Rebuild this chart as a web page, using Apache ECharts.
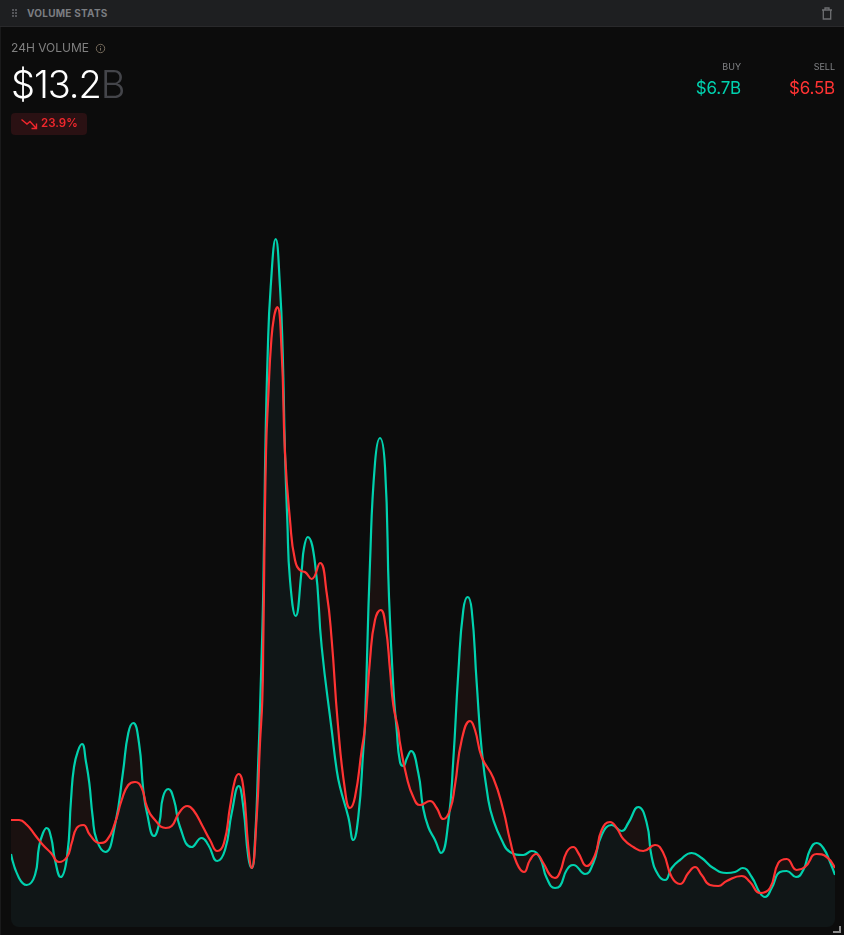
<!DOCTYPE html>
<html><head><meta charset="utf-8">
<script src="https://cdn.jsdelivr.net/npm/echarts@6/dist/echarts.min.js"></script>
<style>
html,body{margin:0;padding:0;background:#0c0c0c;width:844px;height:935px;overflow:hidden;font-family:Inter,sans-serif}
.abs{position:absolute;white-space:nowrap;line-height:1;z-index:2}
#hdr{position:absolute;left:0;top:0;width:844px;height:26px;background:#1e1f21;border-bottom:1px solid #29292b}
#edge{position:absolute;left:0;top:27px;width:1px;height:908px;background:#1a1a1b}
#wrap{position:absolute;left:11px;top:27px;width:824px;height:900px;overflow:hidden;border-radius:0 0 8px 8px}
#chart{width:824px;height:900px}
#corner{position:absolute;left:833px;top:926px;width:6px;height:5px;border-right:2px solid #8a8a8a;border-bottom:2px solid #8a8a8a}
</style></head><body>
<div id="hdr"></div><div id="edge"></div>
<div id="wrap"><div id="chart"></div></div>
<svg class="abs" style="left:12px;top:9px" width="6" height="9"><g fill="#55565a"><rect x="0" y="0" width="2" height="2"/><rect x="3" y="0" width="2" height="2"/><rect x="0" y="3" width="2" height="2"/><rect x="3" y="3" width="2" height="2"/><rect x="0" y="6" width="2" height="2"/><rect x="3" y="6" width="2" height="2"/></g></svg>
<div class="abs" style="left:27px;top:8px;font-size:10px;font-weight:700;letter-spacing:.25px;color:#7b7d81">VOLUME STATS</div>
<svg class="abs" style="left:821px;top:7px" width="12" height="13" fill="none" stroke="#6e6f72" stroke-width="1.3"><path d="M1 3h10M4 3V1h4v2M2.3 3v9h7.4V3"/></svg>
<div class="abs" style="left:11px;top:42px;font-size:12px;color:#808080">24H VOLUME</div>
<svg class="abs" style="left:95px;top:43px" width="11" height="11" fill="none" stroke="#74695a" stroke-width="1"><circle cx="5.5" cy="5.5" r="4.2"/><path d="M5.5 3.2v.9M5.5 5v2.6"/></svg>
<div class="abs" style="left:11px;top:65px;font-size:38px;font-weight:300;letter-spacing:-1.1px;color:#fff">$13.2<span style="color:#44454a">B</span></div>
<div class="abs" style="left:11px;top:113px;width:76px;height:22px;background:#2a1113;border-radius:4px"></div>
<svg class="abs" style="left:21px;top:118px" width="17" height="12" fill="none" stroke="#f0272c" stroke-width="1.4"><path d="M0.5 1.5L6 6L9 3.5L15 10M15.5 5.5V10.5H10.5"/></svg>
<div class="abs" style="left:41px;top:118px;font-size:11.5px;font-weight:600;color:#f0272c">23.9%</div>
<div class="abs" style="right:103px;top:62px;font-size:9px;color:#808285">BUY</div>
<div class="abs" style="right:9px;top:62px;font-size:9px;color:#808285">SELL</div>
<div class="abs" style="right:103px;top:80px;font-size:17px;font-weight:400;letter-spacing:-.2px;color:#00d1ae">$6.7B</div>
<div class="abs" style="right:9px;top:80px;font-size:17px;font-weight:400;letter-spacing:-.2px;color:#ff3333">$6.5B</div>
<div id="corner"></div>
<script>
const buyTime=[0,8,15.7,24,28,32,35.7,40,44,49.7,56,60,63,67.3,71,75,78.3,81.7,85.7,94.3,104,112,117.3,122.3,128,132.3,136,143,148.3,152,157.3,163,169,180.7,190.7,197.3,206.3,214,220.7,227.7,232.3,237.3,240.7,244,247.3,249.3,252.3,254,256.7,259.7,264.7,269,271.7,274,276.3,279,284.7,290.7,293,296.7,304,310.7,320.7,325.7,329,337.3,342.3,347.3,352.3,354,359,364,369,374,378,382.3,385.7,389,392.3,396,400,407.3,412,417.3,424,430,437.3,442.3,447.3,452.3,456.7,460.7,465.7,470.7,477.3,482.3,490.7,499,512.3,520.7,529,535.7,544,549,555.7,562.3,574,582.3,590.7,600.7,610.7,617.3,627.3,635.7,640.7,647.3,654,660.7,669,680.7,690.7,702.3,715.7,724,731.7,740.7,749,754,760.7,769,775.7,785,792.3,799,805.7,812.3,819,824];
const buyVolume=[73,49,42,52,80,94,99,90,67,50,70,127,160,177,183,165,144,110,87,75,102,155,194,204,184,137,114,91,104,130,138,127,100,80,89,82,66,77,114,141,120,70,59,87,167,227,337,457,574,640,688,640,574,474,407,347,311,357,379,390,364,280,197,157,140,110,87,110,177,204,364,464,489,460,330,240,197,165,161,169,176,154,120,100,87,74,105,167,254,317,330,317,244,177,127,107,87,75,72,76,69,49,39,41,57,62,53,64,92,102,96,104,120,104,70,52,47,59,67,74,69,59,54,55,59,50,34,30,39,55,56,50,57,77,84,79,65,52];
const sellTime=[0,8,16,24,32,40,48,56,60.7,65.7,72.3,79,88.3,96,104,110.7,117.3,124,130.7,136,144,154.7,160.7,168,176.3,182.3,192,199,206.3,213,219,224,227.7,232.3,237.3,240.7,245.7,249,251.3,252.3,255,257.5,260,263,266.3,270.7,274,279,284,290,294,300.7,309,315.7,320.7,326.7,334,339,344,350.7,354,359,364,369.7,374.7,379,382.3,387.3,389,395.7,402.3,409,419,425.7,432.3,439,444,450.7,459,464,470.7,482.3,492.3,499,505.7,513,519,525,532.3,539,544,549,555.7,562.3,567.3,575.7,584,590.7,599,605.7,612.3,622.3,632.3,644,652.3,660.7,669,677.3,684,690.7,699,707.3,715.7,730.7,739,749,759,767.3,775.7,785.7,794,805.7,815.7,824];
const sellVolume=[107,107,102,92,82,74,65,70,84,99,102,92,84,87,104,127,142,145,139,120,107,99,101,114,121,117,100,87,76,84,120,147,153,140,80,59,110,184,227,287,474,535,582,610,620,574,474,407,367,356,355,348,364,334,287,205,137,119,130,177,200,267,307,317,300,257,222,197,184,150,130,122,126,119,108,117,142,187,206,197,170,149,117,87,64,55,67,73,64,52,49,55,75,80,74,61,72,97,105,99,88,80,76,82,74,50,43,54,60,52,42,41,46,51,45,34,39,64,68,57,60,73,70,59];

const pairs=(ts,vs)=>ts.map((t,i)=>[t,vs[i]]);
const at=(ts,vs,t)=>{let i=1;while(i<ts.length-1&&ts[i]<t)i++;const f=(t-ts[i-1])/(ts[i]-ts[i-1]);return vs[i-1]+(vs[i]-vs[i-1])*f;};
const sharedTime=[...new Set([...buyTime,...sellTime])].sort((a,b)=>a-b);
const sharedFloor=sharedTime.map(t=>[t,Math.min(at(buyTime,buyVolume,t),at(sellTime,sellVolume,t))]);
const area=(name,data,color,smooth)=>({name,type:'line',data,smooth,symbol:'none',silent:true,lineStyle:{width:0},areaStyle:{color,opacity:1}});
const line=(name,data,color)=>({name,type:'line',data,smooth:0.5,symbol:'none',silent:true,lineStyle:{width:2.2,color}});
const chart=echarts.init(document.getElementById('chart'));
chart.setOption({
  animation:false,backgroundColor:'transparent',
  grid:{left:0,right:0,top:0,bottom:0},
  xAxis:{type:'value',min:0,max:824,show:false},
  yAxis:{type:'value',min:0,max:900,show:false},
  series:[
    area('gapBuy',pairs(buyTime,buyVolume),'#1a1110',0.5),
    area('gapSell',pairs(sellTime,sellVolume),'#1a1110',0.5),
    area('common',sharedFloor,'#101617',false),
    line('Buy',pairs(buyTime,buyVolume),'#00d1ae'),
    line('Sell',pairs(sellTime,sellVolume),'#ff3333')
  ]
});
</script>
</body></html>
